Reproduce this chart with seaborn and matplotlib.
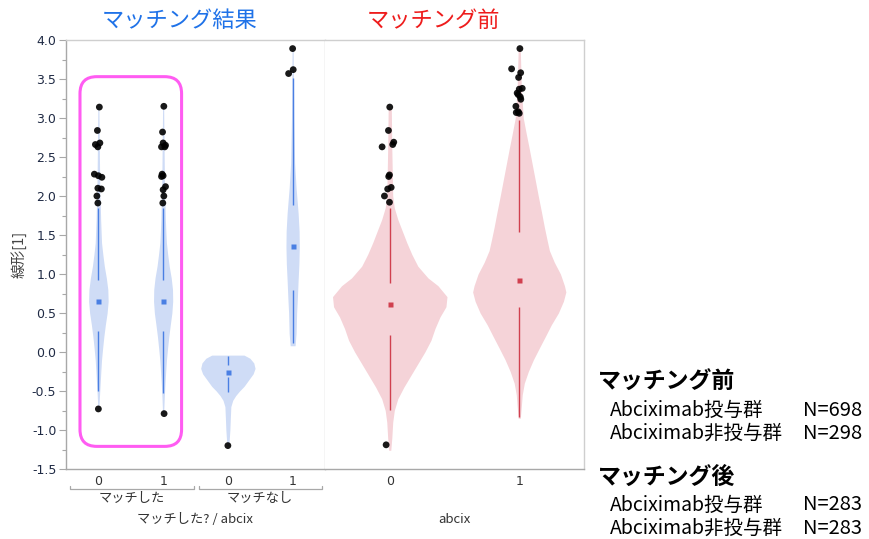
import numpy as np
import pandas as pd
import matplotlib
matplotlib.use("Agg")
import matplotlib.pyplot as plt
import matplotlib.transforms as mtransforms
from matplotlib.patches import FancyBboxPatch
from matplotlib.ticker import MultipleLocator, FormatStrFormatter
import seaborn as sns

# ---- data (JMP violin plot) ----
# left panel: マッチした? / abcix  (4 groups), right panel: abcix (2 groups)
LEFT_TICKS = ["0", "1", "0", "1"]
LEFT_GROUPS = ["マッチした", "マッチなし"]
RIGHT_TICKS = ["0", "1"]

# violin outlines: y levels and half widths (category units)
L0_Y = [3.14, 2.6, 2.0, 1.85, 1.7, 1.55, 1.4, 1.25, 1.1, 0.95, 0.8, 0.65, 0.5, 0.35, 0.2, 0.05, -0.1, -0.25, -0.4, -0.55, -0.73]
L0_W = [0.008, 0.015, 0.023, 0.031, 0.035, 0.042, 0.049, 0.069, 0.092, 0.123, 0.146, 0.151, 0.135, 0.108, 0.085, 0.066, 0.049, 0.038, 0.028, 0.018, 0.008]
L1_Y = [3.15, 2.6, 2.0, 1.85, 1.7, 1.55, 1.4, 1.25, 1.1, 0.95, 0.8, 0.65, 0.5, 0.35, 0.2, 0.05, -0.1, -0.25, -0.4, -0.58, -0.79]
L1_W = [0.008, 0.015, 0.023, 0.031, 0.035, 0.042, 0.051, 0.071, 0.094, 0.125, 0.145, 0.148, 0.135, 0.111, 0.088, 0.069, 0.052, 0.040, 0.029, 0.018, 0.008]
L2_Y = [-0.04, -0.08, -0.14, -0.21, -0.28, -0.36, -0.44, -0.50, -0.56, -0.62, -0.70, -0.85, -1.00, -1.20]
L2_W = [0.25, 0.34, 0.40, 0.42, 0.39, 0.32, 0.25, 0.18, 0.12, 0.075, 0.046, 0.038, 0.031, 0.015]
L3_Y = [3.89, 3.52, 3.0, 2.42, 2.1, 1.78, 1.55, 1.35, 1.13, 0.92, 0.7, 0.5, 0.24, 0.08]
L3_W = [0.008, 0.012, 0.018, 0.031, 0.054, 0.085, 0.100, 0.103, 0.097, 0.085, 0.074, 0.062, 0.054, 0.038]
R0_Y = [3.14, 2.6, 2.0, 1.85, 1.7, 1.55, 1.4, 1.25, 1.1, 0.95, 0.85, 0.71, 0.58, 0.45, 0.3, 0.15, 0.0, -0.15, -0.3, -0.45, -0.6, -0.75, -0.9, -1.1, -1.26]
R0_W = [0.012, 0.016, 0.023, 0.035, 0.062, 0.097, 0.132, 0.171, 0.217, 0.295, 0.372, 0.442, 0.434, 0.388, 0.349, 0.318, 0.271, 0.217, 0.163, 0.109, 0.062, 0.035, 0.023, 0.016, 0.008]
R1_Y = [3.89, 3.4, 3.0, 2.8, 2.6, 2.4, 2.2, 2.0, 1.8, 1.6, 1.45, 1.3, 1.15, 1.0, 0.85, 0.77, 0.65, 0.5, 0.35, 0.2, 0.05, -0.1, -0.25, -0.4, -0.55, -0.7, -0.85]
R1_W = [0.008, 0.016, 0.031, 0.054, 0.078, 0.101, 0.124, 0.147, 0.171, 0.194, 0.213, 0.233, 0.271, 0.318, 0.349, 0.360, 0.341, 0.302, 0.248, 0.202, 0.155, 0.109, 0.070, 0.039, 0.023, 0.016, 0.008]

# whisker segments (upper, lower) and median marker
L_WHISK = [[(1.85, 0.92), (0.27, -0.50)], [(1.85, 0.92), (0.27, -0.52)],
           [(-0.05, -0.17), (-0.32, -0.51)], [(3.51, 1.88), (0.79, 0.12)]]
L_MED = [0.65, 0.65, -0.25, 1.36]
R_WHISK = [[(1.84, 0.89), (0.22, -0.74)], [(2.97, 1.54), (0.58, -0.83)]]
R_MED = [0.61, 0.92]

# outlier points: (x offset in category units, value)
L0_PTS = [(0.015, 3.14), (-0.015, 2.84), (-0.046, 2.66), (0.023, 2.68), (-0.008, 2.63), (-0.062, 2.28),
          (0.0, 2.26), (0.054, 2.24), (-0.008, 2.10), (0.046, 2.09), (-0.023, 2.00), (-0.008, 1.91), (0.0, -0.73)]
L1_PTS = [(0.011, 3.15), (-0.009, 2.82), (0.0, 2.68), (0.037, 2.65), (-0.025, 2.63), (0.026, 2.63), (-0.015, 2.28),
          (-0.025, 2.25), (0.0, 2.26), (0.037, 2.12), (0.0, 2.08), (0.011, 2.00), (-0.005, 1.91), (0.015, -0.79)]
L2_PTS = [(0.0, -1.20)]
L3_PTS = [(0.0, 3.89), (0.009, 3.62), (-0.062, 3.57)]
R0_PTS = [(0.0, 3.14), (-0.010, 2.84), (0.031, 2.69), (0.023, 2.66), (-0.059, 2.63), (-0.002, 2.27), (-0.008, 2.25),
          (0.011, 2.11), (-0.016, 2.09), (-0.041, 2.00), (-0.002, 1.92), (-0.028, -1.19)]
R1_PTS = [(0.005, 3.89), (-0.059, 3.63), (0.011, 3.58), (-0.005, 3.52), (0.0, 3.37), (0.023, 3.38), (-0.016, 3.32),
          (-0.008, 3.30), (0.008, 3.27), (0.012, 3.24), (-0.026, 3.15), (-0.008, 3.08), (-0.023, 3.07), (0.0, 3.06)]

SUMMARY = [("マッチング前", [("Abciximab投与群", "N=698"), ("Abciximab非投与群", "N=298")]),
           ("マッチング後", [("Abciximab投与群", "N=283"), ("Abciximab非投与群", "N=283")])]

BLUE_FILL, BLUE_LINE = "#cfdcf6", "#4a7fe3"
RED_FILL, RED_LINE = "#f5d3d8", "#d0404f"

sns.set_theme(style="white")
plt.rcParams["font.family"] = ["DejaVu Sans", "Noto Sans CJK JP"]
plt.rcParams["axes.unicode_minus"] = False
JP = ["Noto Sans CJK JP", "DejaVu Sans"]


def draw_violins(ax, shapes, whiskers, medians, points, fill, line):
    for i, (ys, ws) in enumerate(shapes):
        ys, ws = np.asarray(ys), np.asarray(ws)
        ax.fill_betweenx(ys, i - ws, i + ws, color=fill, lw=0, zorder=1)
        for top, bot in whiskers[i]:
            ax.plot([i, i], [bot, top], color=line, lw=1.0, zorder=2, solid_capstyle="butt")
        ax.plot(i, medians[i], marker="s", ms=3.6, color=line, mec="none", zorder=3)
    rows = [{"x": i + dx, "y": y} for i, pts in enumerate(points) for dx, y in pts]
    sns.scatterplot(data=pd.DataFrame(rows), x="x", y="y", ax=ax, color="black",
                    s=24, edgecolor="none", alpha=0.9, legend=False, zorder=5)


fig = plt.figure(figsize=(8.7, 5.39), dpi=100)
axL = fig.add_axes([66 / 870, 70 / 539, 259 / 870, 429 / 539])
axR = fig.add_axes([325 / 870, 70 / 539, 259 / 870, 429 / 539], sharey=axL)

draw_violins(axL, [(L0_Y, L0_W), (L1_Y, L1_W), (L2_Y, L2_W), (L3_Y, L3_W)],
             L_WHISK, L_MED, [L0_PTS, L1_PTS, L2_PTS, L3_PTS], BLUE_FILL, BLUE_LINE)
draw_violins(axR, [(R0_Y, R0_W), (R1_Y, R1_W)],
             R_WHISK, R_MED, [R0_PTS, R1_PTS], RED_FILL, RED_LINE)

axL.set_xlim(-0.5, 3.5)
axR.set_xlim(-0.5, 1.5)
axL.set_ylim(-1.5, 4.0)

for ax, labels in ((axL, LEFT_TICKS), (axR, RIGHT_TICKS)):
    ax.set_xticks(range(len(labels)))
    ax.set_xticklabels(labels, fontsize=9, color="#333333")
    ax.tick_params(axis="x", length=0, pad=4)
    ax.set_xlabel("")
    ax.set_ylabel("")
    for s in ax.spines.values():
        s.set_color("#cfcfcf")
        s.set_linewidth(1.0)
    ax.spines["bottom"].set_color("#a8a8a8")

axL.spines["left"].set_color("#a8a8a8")
axR.spines["left"].set_visible(False)
axL.yaxis.set_major_locator(MultipleLocator(0.5))
axL.yaxis.set_minor_locator(MultipleLocator(0.25))
axL.yaxis.set_major_formatter(FormatStrFormatter("%.1f"))
axL.tick_params(axis="y", which="major", left=True, length=5, width=0.8, color="#a8a8a8",
                labelsize=9, labelcolor="#1f2a44", pad=2)
axL.tick_params(axis="y", which="minor", left=True, length=3, width=0.8, color="#a8a8a8")
axR.tick_params(axis="y", which="both", left=False, labelleft=False)

# y label
fig.text(19 / 870, 1 - 254 / 539, "線形[1]", rotation=90, ha="center", va="center",
         fontsize=10.5, color="#444444", family=JP)

# group brackets under left panel
tr = mtransforms.blended_transform_factory(axL.transData, axL.transAxes)
for (x0, x1), name in zip([(-0.44, 1.47), (1.55, 3.45)], LEFT_GROUPS):
    axL.plot([x0, x0, x1, x1], [-0.040, -0.047, -0.047, -0.040], transform=tr,
             color="#a8a8a8", lw=0.9, clip_on=False)
    axL.text((x0 + x1) / 2, -0.068, name, transform=tr, ha="center", va="center",
             fontsize=9.5, color="#333333", family=JP)
axL.text(1.5, -0.118, "マッチした? / abcix", transform=tr, ha="center", va="center",
         fontsize=9.5, color="#333333", family=JP)
trR = mtransforms.blended_transform_factory(axR.transData, axR.transAxes)
axR.text(0.5, -0.118, "abcix", transform=trR, ha="center", va="center",
         fontsize=9.5, color="#333333", family=JP)

# highlight box around the matched pair
box = FancyBboxPatch((-0.284, -1.21), 1.569, 4.74,
                     boxstyle="round,pad=0,rounding_size=0.26", mutation_aspect=0.83,
                     fill=False, ec="#ff5cf2", lw=2.2, clip_on=False, zorder=6)
axL.add_patch(box)

# titles
fig.text(180 / 870, 1 - 20 / 539, "マッチング結果", ha="center", va="center",
         fontsize=16, color="#1f72e8", family=JP)
fig.text(433 / 870, 1 - 20 / 539, "マッチング前", ha="center", va="center",
         fontsize=16, color="#ee1c1c", family=JP)

# sample size summary on the right
y0 = 382
for head, rows in SUMMARY:
    fig.text(598 / 870, 1 - y0 / 539, head, ha="left", va="center", fontsize=16.5,
             fontweight="bold", color="black", family=JP)
    for k, (name, n) in enumerate(rows):
        yy = y0 + 28 + 23.5 * k
        fig.text(610 / 870, 1 - yy / 539, name, ha="left", va="center", fontsize=14,
                 color="black", family=JP)
        fig.text(803 / 870, 1 - yy / 539, n, ha="left", va="center", fontsize=14.5,
                 color="black", family=JP)
    y0 += 95

fig.savefig("out.png", dpi=100)
